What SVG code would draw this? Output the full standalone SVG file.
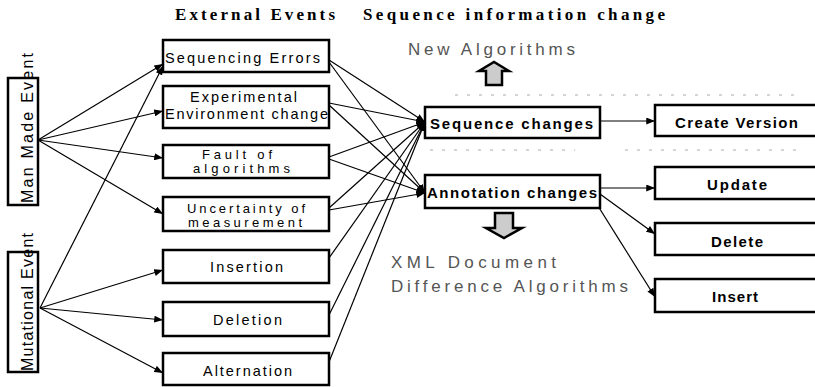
<svg xmlns="http://www.w3.org/2000/svg" width="815" height="387" viewBox="0 0 815 387">
<style>
.box{fill:#fff;stroke:#000;stroke-width:2.5}
.t{font-family:"Liberation Sans",Arial,sans-serif;font-size:14.5px;fill:#000}
.t2{font-family:"Liberation Sans",Arial,sans-serif;font-size:13px;fill:#000}
.tb{font-family:"Liberation Sans",Arial,sans-serif;font-size:15px;font-weight:bold;fill:#000}
.vt{font-family:"Liberation Sans",Arial,sans-serif;font-size:16px;fill:#000}
.title{font-family:"Liberation Serif","Times New Roman",serif;font-size:17px;font-weight:bold;fill:#000}
.gray{font-family:"Liberation Sans",Arial,sans-serif;font-size:17px;fill:#555}
.c line{stroke:#000;stroke-width:1.2;marker-end:url(#ah)}
.dots{stroke:#aaa;stroke-width:1;stroke-dasharray:3 9}
.big{fill:#ccc;stroke:#000;stroke-width:2.5;stroke-linejoin:miter}
</style>
<defs>
<marker id="ah" viewBox="0 0 10 8" refX="10" refY="4" markerWidth="9" markerHeight="7" markerUnits="userSpaceOnUse" orient="auto">
<path d="M0,0 L10,4 L0,8 Z" fill="#000"/>
</marker>
</defs>

<text class="title" x="175" y="20" textLength="160" lengthAdjust="spacing">External Events</text>
<text class="title" x="363" y="20" textLength="302" lengthAdjust="spacing">Sequence information change</text>

<line class="dots" x1="455" y1="95" x2="800" y2="95"/>
<line class="dots" x1="430" y1="150" x2="575" y2="150"/>
<line class="dots" x1="625" y1="150" x2="800" y2="150"/>

<g id="connectors" class="c">
<line x1="38" y1="140" x2="163" y2="64"/>
<line x1="38" y1="140" x2="163" y2="111"/>
<line x1="38" y1="140" x2="163" y2="158"/>
<line x1="38" y1="140" x2="163" y2="214"/>
<line x1="40" y1="308" x2="163" y2="66"/>
<line x1="40" y1="308" x2="163" y2="270"/>
<line x1="40" y1="308" x2="163" y2="320"/>
<line x1="40" y1="308" x2="163" y2="373"/>
<line x1="329" y1="60" x2="425" y2="122"/>
<line x1="329" y1="62" x2="425" y2="193"/>
<line x1="329" y1="103" x2="425" y2="122"/>
<line x1="329" y1="105" x2="425" y2="193"/>
<line x1="329" y1="157" x2="425" y2="122"/>
<line x1="329" y1="159" x2="425" y2="193"/>
<line x1="329" y1="208" x2="425" y2="122"/>
<line x1="329" y1="210" x2="425" y2="193"/>
<line x1="329" y1="258" x2="425" y2="122"/>
<line x1="329" y1="315" x2="425" y2="122"/>
<line x1="329" y1="362" x2="425" y2="122"/>
<line x1="600" y1="121" x2="655" y2="121"/>
<line x1="600" y1="188" x2="655" y2="188"/>
<line x1="600" y1="194" x2="655" y2="234"/>
<line x1="598" y1="206" x2="655" y2="297"/>
</g>

<g id="n_manmade">
<rect class="box" x="8" y="78" width="30" height="127"/>
<text class="vt" transform="translate(33,203) rotate(-90)" textLength="150" lengthAdjust="spacing">Man Made Event</text>
</g>
<g id="n_mutational">
<rect class="box" x="8" y="252" width="30" height="120"/>
<text class="vt" transform="translate(33,371) rotate(-90)" textLength="138" lengthAdjust="spacing">Mutational Event</text>
</g>

<g id="n_seqerr">
<rect class="box" x="163" y="40" width="166" height="32"/>
<text class="t" x="165" y="63" textLength="155" lengthAdjust="spacing">Sequencing Errors</text>
</g>
<g id="n_exp">
<rect class="box" x="163" y="86" width="166" height="42"/>
<text class="t" x="190" y="102" textLength="107" lengthAdjust="spacing">Experimental</text>
<text class="t" x="165" y="119" textLength="163" lengthAdjust="spacing">Environment change</text>
</g>
<g id="n_fault">
<rect class="box" x="163" y="145" width="166" height="33"/>
<text class="t2" x="202" y="159" textLength="70" lengthAdjust="spacing">Fault of</text>
<text class="t2" x="193" y="173" textLength="97" lengthAdjust="spacing">algorithms</text>
</g>
<g id="n_uncert">
<rect class="box" x="163" y="197" width="166" height="34"/>
<text class="t2" x="187" y="213" textLength="118" lengthAdjust="spacing">Uncertainty of</text>
<text class="t2" x="188" y="227" textLength="114" lengthAdjust="spacing">measurement</text>
</g>
<g id="n_insertion">
<rect class="box" x="163" y="250" width="166" height="33"/>
<text class="t" x="210" y="272" textLength="73" lengthAdjust="spacing">Insertion</text>
</g>
<g id="n_deletion">
<rect class="box" x="163" y="302" width="166" height="34"/>
<text class="t" x="213" y="325" textLength="69" lengthAdjust="spacing">Deletion</text>
</g>
<g id="n_alternation">
<rect class="box" x="163" y="353" width="166" height="32"/>
<text class="t" x="203" y="376" textLength="89" lengthAdjust="spacing">Alternation</text>
</g>

<g id="n_seqchanges">
<rect class="box" x="425" y="107" width="175" height="31"/>
<text class="tb" x="430" y="129" textLength="163" lengthAdjust="spacing">Sequence changes</text>
</g>
<g id="n_annot">
<rect class="box" x="425" y="175" width="175" height="33"/>
<text class="tb" x="427" y="198" textLength="170" lengthAdjust="spacing">Annotation changes</text>
</g>

<g id="n_newalg">
<path class="big" d="M486,85 L486,71 L479,71 L494,62 L509,71 L502,71 L502,85 Z"/>
<text class="gray" x="408" y="55" textLength="167" lengthAdjust="spacing">New Algorithms</text>
</g>
<g id="n_xmlalg">
<path class="big" d="M495,213 L513,213 L513,228 L522,228 L504,238 L486,228 L495,228 Z"/>
<text class="gray" x="391" y="268" textLength="165" lengthAdjust="spacing">XML Document</text>
<text class="gray" x="391" y="292" textLength="237" lengthAdjust="spacing">Difference Algorithms</text>
</g>

<g id="n_createversion">
<rect class="box" x="655" y="105" width="170" height="31"/>
<text class="tb" x="675" y="128" textLength="123" lengthAdjust="spacing">Create Version</text>
</g>
<g id="n_update">
<rect class="box" x="655" y="167" width="170" height="32"/>
<text class="tb" x="707" y="190" textLength="60" lengthAdjust="spacing">Update</text>
</g>
<g id="n_delete">
<rect class="box" x="655" y="223" width="170" height="32"/>
<text class="tb" x="711" y="247" textLength="52" lengthAdjust="spacing">Delete</text>
</g>
<g id="n_insert">
<rect class="box" x="655" y="279" width="170" height="33"/>
<text class="tb" x="712" y="302" textLength="46" lengthAdjust="spacing">Insert</text>
</g>
</svg>
